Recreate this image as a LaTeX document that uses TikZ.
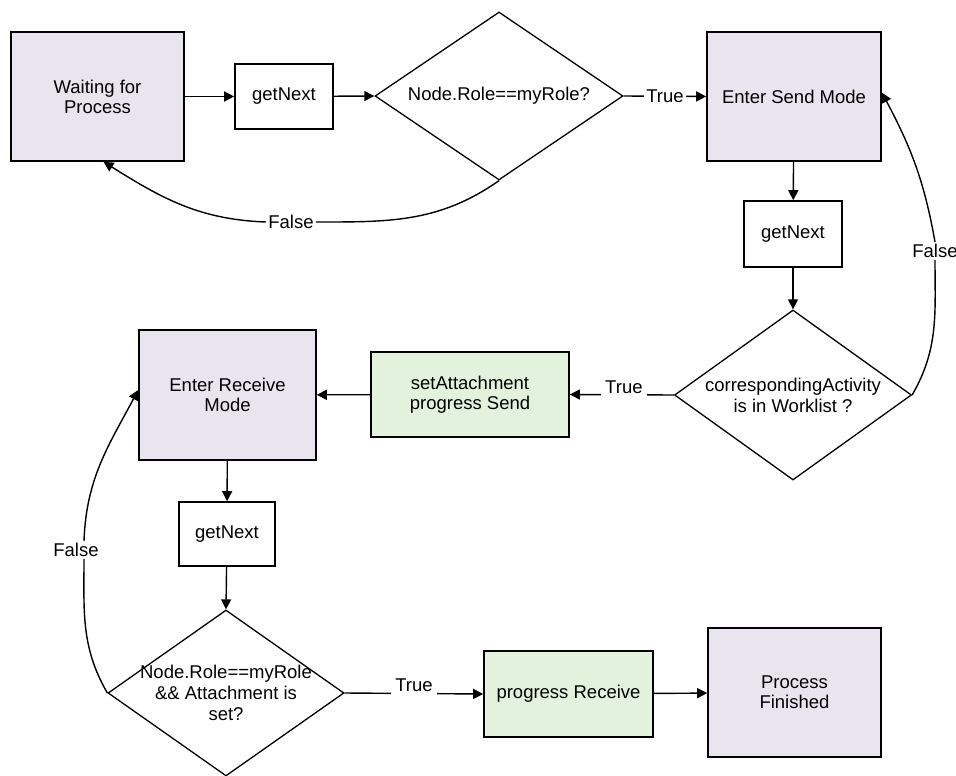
\documentclass[tikz,border=0pt]{standalone}
\usepackage{fontspec}
\setmainfont{Liberation Sans}
\usetikzlibrary{shapes.geometric,arrows.meta}
\definecolor{modefill}{HTML}{E8E5EE}
\definecolor{actfill}{HTML}{E2F2DC}
\tikzset{
  base/.style={draw=black, line width=1.6pt, font=\fontsize{18.5}{20}\selectfont, align=center, inner sep=0pt},
  mode/.style={base, fill=modefill},
  act/.style={base, fill=actfill},
  plain/.style={base, fill=white},
  dec/.style={draw=black, line width=1.3pt, diamond, inner sep=0pt, fill=white},
  dectext/.style={font=\fontsize{18.5}{21}\selectfont, align=center, inner sep=0pt},
  lbl/.style={font=\fontsize{18.5}{20}\selectfont, inner sep=2pt, fill=white},
  raisedlbl/.style={lbl, inner xsep=4pt, inner ysep=9pt, yshift=8pt},
  flow/.style={line width=1.4pt, -{Triangle[length=10pt,width=10pt]}},
  wire/.style={line width=1.4pt},
}
\begin{document}
\begin{tikzpicture}[x=1pt, y=-1pt]
  \useasboundingbox[fill=white] (0,0) rectangle (956,776);

  % top row
  \node[mode, minimum width=173pt, minimum height=129pt] (wait) at (97.5,96.5) {Waiting for\\Process};
  \node[plain, minimum width=98pt, minimum height=65pt] (gn1) at (284,96.5) {getNext};
  \node[dec, minimum width=248pt, minimum height=168pt] (d1) at (499,96) {};
  \node[dectext] (d1t) at (d1.center) {Node.Role==myRole?};
  \node[mode, minimum width=174pt, minimum height=129pt] (send) at (794,96.5) {Enter Send Mode};

  % send branch
  \node[plain, minimum width=98pt, minimum height=66pt] (gn2) at (793,234) {getNext};
  \node[dec, minimum width=237pt, minimum height=170pt] (d2) at (793,395) {};
  \node[dectext] (d2t) at (d2.center) {correspondingActivity\\is in Worklist ?};
  \node[act, minimum width=198pt, minimum height=85pt] (att) at (470,394.5) {setAttachment\\progress Send};

  % receive branch
  \node[mode, minimum width=177pt, minimum height=130pt] (recv) at (227.5,395) {Enter Receive\\Mode};
  \node[plain, minimum width=96pt, minimum height=64pt] (gn3) at (227,534) {getNext};
  \node[dec, minimum width=236pt, minimum height=166pt] (d3) at (226,693) {};
  \node[dectext] (d3t) at (d3.center) {Node.Role==myRole\\\&\& Attachment is\\set?};
  \node[act, minimum width=169pt, minimum height=86pt] (prog) at (568.5,694) {progress Receive};
  \node[mode, minimum width=173pt, minimum height=129pt] (fin) at (794.5,692.5) {Process\\Finished};

  % straight connectors
  \draw[flow] (wait) -- (gn1);
  \draw[flow] (gn1) -- (d1.west);
  \draw[flow] (d1.east) -- node[lbl] (t1) {True} (send.west);
  \draw[flow] (send) -- (gn2);
  \draw[flow] (gn2) -- (d2.north);
  \draw[flow] (d2.west) -- node[raisedlbl, pos=0.48] (t2) {True} (att.east);
  \draw[flow] (att) -- (recv);
  \draw[flow] (recv) -- (gn3);
  \draw[flow] (gn3) -- (d3.north);
  \draw[flow] (d3.east) -- node[raisedlbl, pos=0.5] (t3) {True} (prog.west);
  \draw[flow] (prog) -- (fin);

  % False loops
  \node[lbl] (f1) at (291,222) {False};
  \draw[wire] (d1.south) to[out=-145, in=0] (f1.east);
  \draw[flow] (f1.west) to[out=178, in=-32] ([xshift=6pt]wait.south);

  \node[lbl, inner xsep=0.5pt] (f2) at (935,251) {False};
  \draw[wire] (d2.east) to[out=60, in=-90] (f2.south);
  \draw[flow] (f2.north) to[out=100, in=-62] ([yshift=4pt]send.east);

  \node[lbl] (f3) at (76,550) {False};
  \draw[wire] (d3.west) to[out=120, in=-90] ([xshift=8pt]f3.south);
  \draw[flow] ([xshift=8pt]f3.north) to[out=88, in=-118] ([yshift=5pt]recv.west);
\end{tikzpicture}
\end{document}
